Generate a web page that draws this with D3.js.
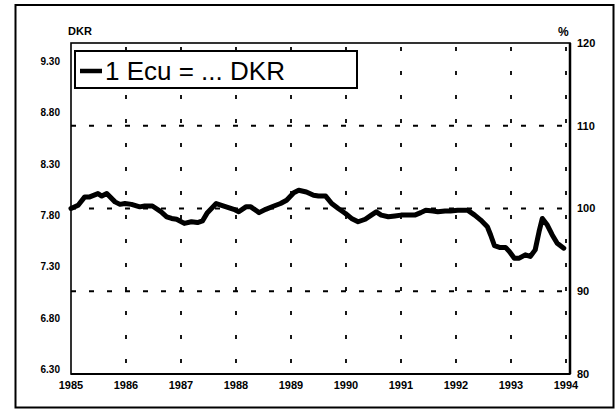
<!DOCTYPE html>
<html><head><meta charset="utf-8">
<script src="https://cdn.jsdelivr.net/npm/d3@7/dist/d3.min.js"></script>
<style>body{margin:0;background:#fff}svg{display:block}text{font-family:"Liberation Sans",Arial,sans-serif}</style>
</head><body>
<script>
const years = [1985.00,1985.13,1985.25,1985.34,1985.49,1985.56,1985.65,1985.80,1985.89,1985.98,1986.10,1986.25,1986.34,1986.48,1986.64,1986.74,1986.83,1986.92,1987.06,1987.19,1987.30,1987.39,1987.48,1987.64,1987.78,1987.96,1988.05,1988.18,1988.27,1988.42,1988.54,1988.69,1988.81,1988.92,1989.05,1989.14,1989.28,1989.41,1989.50,1989.63,1989.74,1989.86,1989.99,1990.10,1990.22,1990.35,1990.46,1990.55,1990.64,1990.77,1990.89,1991.00,1991.13,1991.25,1991.36,1991.45,1991.58,1991.67,1991.80,1991.90,1992.03,1992.21,1992.34,1992.45,1992.57,1992.63,1992.70,1992.79,1992.90,1992.97,1993.06,1993.15,1993.26,1993.35,1993.44,1993.51,1993.57,1993.66,1993.75,1993.84,1993.96];
const ecuIndex = [100.0,100.4,101.4,101.4,101.8,101.5,101.8,100.8,100.5,100.6,100.5,100.2,100.3,100.3,99.6,99.0,98.8,98.7,98.2,98.4,98.3,98.5,99.5,100.6,100.3,99.9,99.6,100.2,100.2,99.5,99.9,100.3,100.6,101.0,101.9,102.2,102.0,101.6,101.5,101.5,100.6,100.0,99.4,98.8,98.4,98.7,99.2,99.6,99.2,99.0,99.1,99.2,99.2,99.2,99.5,99.8,99.7,99.6,99.7,99.7,99.8,99.8,99.2,98.6,97.8,96.8,95.5,95.3,95.3,94.8,94.0,94.0,94.4,94.2,95.0,97.2,98.8,98.0,96.8,95.8,95.2];
const yearTicks = [1985,1986,1987,1988,1989,1990,1991,1992,1993,1994];
const dkrTicks = [9.30,8.80,8.30,7.80,7.30,6.80,6.30];
const pctTicks = [120,110,100,90,80];
const pctGrid = [110,100,90];
const legendText = "1 Ecu = ... DKR";

const W=616,H=410;
const svg=d3.select("body").append("svg").attr("width",W).attr("height",H);
const x=d3.scaleLinear().domain([1985,1994]).range([71,566]);
const yP=d3.scaleLinear().domain([80,120]).range([374,43]);
const yD=d3.scaleLinear().domain([6.3,9.3]).range([369.5,61.5]);
const pL=71,pR=570,pT=43,pB=374;

// outer border
svg.append("rect").attr("x",15.5).attr("y",5).attr("width",598).attr("height",402.5)
  .attr("fill","none").attr("stroke","#000").attr("stroke-width",2);

// grid
svg.append("g").selectAll("line").data(yearTicks.slice(1)).join("line")
  .attr("x1",d=>x(d)).attr("x2",d=>x(d)).attr("y1",pT+4).attr("y2",pB)
  .attr("stroke","#000").attr("stroke-width",1.8).attr("stroke-dasharray","4,20");
svg.append("g").selectAll("line").data(pctGrid).join("line")
  .attr("x1",pL).attr("x2",pR).attr("y1",d=>yP(d)).attr("y2",d=>yP(d))
  .attr("stroke","#000").attr("stroke-width",1.8).attr("stroke-dasharray","5,13");

// frame
svg.append("rect").attr("x",pL).attr("y",pT).attr("width",pR-pL).attr("height",pB-pT)
  .attr("fill","none").attr("stroke","#000").attr("stroke-width",1.6);
svg.append("line").attr("x1",pR).attr("x2",pR).attr("y1",pT).attr("y2",pB)
  .attr("stroke","#000").attr("stroke-width",2.5);
svg.append("line").attr("x1",pL).attr("x2",pR).attr("y1",pB).attr("y2",pB)
  .attr("stroke","#000").attr("stroke-width",2.2);

// line
const pts=years.map((d,i)=>[d,ecuIndex[i]]);
svg.append("path").datum(pts)
  .attr("d",d3.line().x(d=>x(d[0])).y(d=>yP(d[1])))
  .attr("fill","none").attr("stroke","#000").attr("stroke-width",5)
  .attr("stroke-linejoin","round").attr("stroke-linecap","round");

// left axis labels
svg.append("g").selectAll("text").data(dkrTicks).join("text")
  .attr("x",60).attr("y",d=>yD(d)).attr("dy","0.35em").attr("text-anchor","end")
  .attr("font-size",10).attr("font-weight","bold").text(d=>d.toFixed(2));
// right axis labels
svg.append("g").selectAll("text").data(pctTicks).join("text")
  .attr("x",577).attr("y",d=>yP(d)).attr("dy","0.35em").attr("text-anchor","start")
  .attr("font-size",11).attr("font-weight","bold").text(d=>d);
// x labels
svg.append("g").selectAll("text").data(yearTicks).join("text")
  .attr("x",d=>x(d)).attr("y",389).attr("text-anchor","middle")
  .attr("font-size",11).attr("font-weight","bold").text(d=>d);

svg.append("text").attr("x",68).attr("y",35).attr("font-size",11).attr("font-weight","bold").text("DKR");
svg.append("text").attr("x",558).attr("y",36).attr("font-size",12).attr("font-weight","bold").text("%");

// legend
svg.append("rect").attr("x",75).attr("y",51).attr("width",282).attr("height",37)
  .attr("fill","#fff").attr("stroke","#000").attr("stroke-width",2);
svg.append("line").attr("x1",80).attr("x2",102).attr("y1",71).attr("y2",71)
  .attr("stroke","#000").attr("stroke-width",4.5);
svg.append("text").attr("x",105).attr("y",80).attr("font-size",26).text(legendText);
</script>
</body></html>
